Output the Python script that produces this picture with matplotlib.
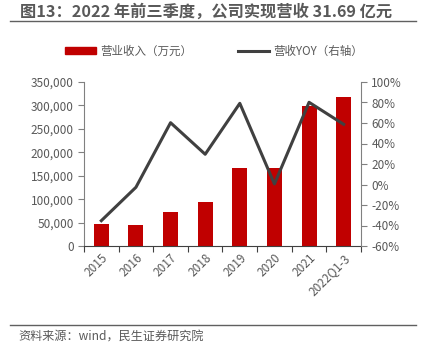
import matplotlib.pyplot as plt
from matplotlib.ticker import FuncFormatter, FixedLocator
from matplotlib.lines import Line2D
from matplotlib.patches import Patch

plt.rcParams['font.family'] = ['Noto Sans CJK SC', 'DejaVu Sans']

years = ["2015", "2016", "2017", "2018", "2019", "2020", "2021", "2022Q1-3"]
revenue = [46300, 44800, 71900, 93200, 165800, 167100, 299400, 318700]
yoy = [-35.3, -2.7, 60.3, 29.5, 79.2, 0.5, 80.2, 58.7]

red = "#C00000"
grey = "#404040"
txt = "#595959"

fig = plt.figure(figsize=(4.26, 3.57), dpi=100)
ax = fig.add_axes([84 / 426, 1 - 246 / 357, 277 / 426, 164 / 357])

x = range(len(years))
ax.bar(x, revenue, width=0.43, color=red, zorder=2)
ax.set_xlim(-0.5, len(years) - 0.5)
ax.set_ylim(0, 350000)
ax.yaxis.set_major_locator(FixedLocator(range(0, 350001, 50000)))
ax.yaxis.set_major_formatter(FuncFormatter(lambda v, p: f"{int(v):,}"))

ax2 = ax.twinx()
ax2.plot(x, yoy, color=grey, lw=2.2, zorder=3)
ax2.set_ylim(-60, 100)
ax2.yaxis.set_major_locator(FixedLocator(range(-60, 101, 20)))
ax2.yaxis.set_major_formatter(FuncFormatter(lambda v, p: f"{int(v)}%"))

ax.set_xticks([i + 0.5 for i in range(-1, len(years))], minor=False)
ax.set_xticklabels([])
ax.set_xticks(list(x), minor=True)
ax.set_xticklabels(years, minor=True, rotation=45, ha="right", rotation_mode="anchor")
ax.tick_params(axis="x", which="minor", length=0, pad=4, labelsize=8.5, labelcolor=txt)
ax.tick_params(axis="x", which="major", length=4, color=grey, direction="out")

for a in (ax, ax2):
    a.spines["top"].set_visible(False)
    a.tick_params(axis="y", labelsize=8.5, labelcolor=txt, color="#808080", length=4, width=0.8)
ax.spines["right"].set_visible(False)
ax2.spines["left"].set_visible(False)
ax.spines["left"].set_color("#808080")
ax2.spines["right"].set_color("#808080")
ax.spines["bottom"].set_color(grey)
ax2.spines["bottom"].set_visible(False)

# title and rules
fig.text(20 / 426, 1 - 12 / 357, "图13：2022 年前三季度，公司实现营收 31.69 亿元",
         fontsize=11.7, fontweight="bold", color=txt, va="center", ha="left")
fig.add_artist(Line2D([10 / 426, 416 / 426], [1 - 21 / 357] * 2, color="#606060", lw=1))
fig.add_artist(Line2D([10 / 426, 416 / 426], [1 - 325 / 357] * 2, color="#606060", lw=1))
fig.text(18 / 426, 1 - 337 / 357, "资料来源：wind，民生证券研究院",
         fontsize=8.7, color=txt, va="center", ha="left")

handles = [Patch(color=red), Line2D([], [], color=grey, lw=2.2)]
fig.legend(handles, ["营业收入（万元）", "营收YOY（右轴）"], loc="center",
           bbox_to_anchor=(0.5 + 1 / 426, 1 - 51 / 357), ncol=2, frameon=False, fontsize=8.3,
           labelcolor=txt, handlelength=2.7, handleheight=0.5, columnspacing=3.9,
           handletextpad=0.4)

fig.savefig("out.png", dpi=100)
